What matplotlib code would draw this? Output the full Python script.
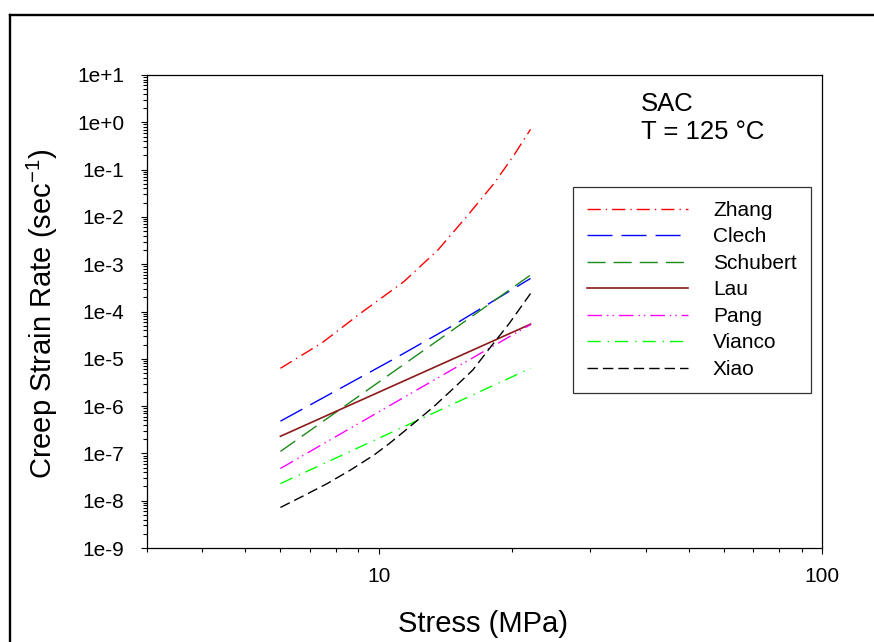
import numpy as np
import matplotlib
matplotlib.use("Agg")
import matplotlib.pyplot as plt
from matplotlib.lines import Line2D
from matplotlib.ticker import LogLocator, FuncFormatter, FixedLocator, NullFormatter

plt.rcParams['font.family'] = ['Liberation Sans', 'DejaVu Sans']
plt.rcParams['mathtext.fontset'] = 'custom'
plt.rcParams['mathtext.rm'] = 'Liberation Sans'
plt.rcParams['mathtext.it'] = 'Liberation Sans:italic'
plt.rcParams['lines.scale_dashes'] = False

# valores (tensão em MPa, taxa em 1/s)
zhang_s = [6.0, 7.46, 9.1, 11.4, 13.6, 15.9, 18.2, 20.1, 22.0]
zhang_r = [6.3e-6, 2.2e-5, 9.2e-5, 4.3e-4, 2.0e-3, 1.1e-2, 5.1e-2, 0.19, 0.71]

clech_s = [6.0, 10.64, 14.56, 22.0]
clech_r = [4.8e-7, 9.1e-6, 4.8e-5, 5.0e-4]

schubert_s = [6.0, 22.0]
schubert_r = [1.1e-7, 5.9e-4]

lau_s = [6.0, 22.0]
lau_r = [2.3e-7, 5.4e-5]

pang_s = [6.0, 22.0]
pang_r = [4.8e-8, 5.3e-5]

vianco_s = [6.0, 22.0]
vianco_r = [2.3e-8, 6.3e-6]

xiao_s = [6.0, 6.8, 7.65, 8.65, 9.75, 10.55, 11.4, 13.3, 14.9, 16.3, 17.9, 19.7, 22.0]
xiao_r = [7.2e-9, 1.3e-8, 2.3e-8, 4.5e-8, 9.2e-8, 1.6e-7, 2.9e-7, 9.7e-7,
          2.6e-6, 5.8e-6, 1.8e-5, 5.6e-5, 2.4e-4]

W, H = 874, 642
fig = plt.figure(figsize=(W / 100, H / 100), dpi=100)
ax = fig.add_axes([147 / W, 1 - 548 / H, (822 - 147) / W, (548 - 75) / H])

lw = 1.0
ax.plot(zhang_s, zhang_r, color='#ff0000', lw=lw, dashes=(9.5, 3.6, 1.0, 3.6), label='Zhang')
ax.plot(clech_s, clech_r, color='#0000ff', lw=lw, dashes=(18, 6.5), label='Clech')
ax.plot(schubert_s, schubert_r, color='#1a8a1a', lw=lw, dashes=(13, 5.8), label='Schubert')
ax.plot(lau_s, lau_r, color='#8b1a1a', lw=1.2, ls='-', label='Lau')
ax.plot(pang_s, pang_r, color='#ff00ff', lw=lw,
        dashes=(10.5, 3.6, 1.0, 2.9, 1.0, 3.6), label='Pang')
ax.plot(vianco_s, vianco_r, color='#00ff00', lw=lw, dashes=(9.5, 5.0, 1.0, 4.3), label='Vianco')
ax.plot(xiao_s, xiao_r, color='#000000', lw=lw, dashes=(7.5, 3.6), label='Xiao')

ax.set_xscale('log')
ax.set_yscale('log')
ax.set_xlim(3, 100)
ax.set_ylim(1e-9, 1e1)

ax.xaxis.set_major_locator(FixedLocator([10, 100]))
ax.xaxis.set_major_formatter(FuncFormatter(lambda v, p: f"{v:g}"))
ax.xaxis.set_minor_locator(FixedLocator([3, 4, 5, 6, 7, 8, 9, 20, 30, 40, 50, 60, 70, 80, 90]))
ax.xaxis.set_minor_formatter(NullFormatter())

ax.yaxis.set_major_locator(FixedLocator([10.0 ** k for k in range(-9, 2)]))
ax.yaxis.set_major_formatter(FuncFormatter(lambda v, p: f"1e{int(round(np.log10(v))):+d}"))
ax.yaxis.set_minor_locator(LogLocator(base=10, subs=np.arange(2, 10), numticks=20))
ax.yaxis.set_minor_formatter(NullFormatter())

ax.tick_params(which='both', direction='out', top=False, right=False, width=0.8, labelsize=15)
ax.tick_params(axis='y', which='major', length=4.5, pad=12)
ax.tick_params(axis='x', which='major', length=4.5, pad=9)
ax.tick_params(which='minor', length=2.6)
for sp in ax.spines.values():
    sp.set_linewidth(0.9)

fig.text(483.5 / W, 1 - 624 / H, 'Stress (MPa)', fontsize=21, ha='center', va='center')
fig.text(42 / W, 1 - 314 / H, 'Creep Strain Rate (sec$^{-1}$)', fontsize=21,
         rotation=90, ha='center', va='center')

fig.text(640.7 / W, 1 - 111 / H, 'SAC', fontsize=18.5, ha='left', va='baseline')
fig.text(640.7 / W, 1 - 139 / H, 'T = 125 °C', fontsize=18.5, ha='left', va='baseline')

leg = ax.legend(loc='upper left', bbox_to_anchor=(573 / W, 1 - 187 / H),
                bbox_transform=fig.transFigure, fontsize=15, frameon=True,
                fancybox=False, framealpha=1, edgecolor='#333333',
                handlelength=4.85, handletextpad=1.2, borderpad=0.67,
                labelspacing=0.36, borderaxespad=0)
leg.get_frame().set_linewidth(0.9)

# moldura da figura (só esquerda e topo aparecem)
fig.add_artist(Line2D([10 / W, 10 / W], [0, 1 - 15 / H], transform=fig.transFigure,
                      color='black', lw=1.7))
fig.add_artist(Line2D([10 / W, 1], [1 - 15 / H, 1 - 15 / H], transform=fig.transFigure,
                      color='black', lw=1.7))

fig.savefig('out.png', dpi=100)
